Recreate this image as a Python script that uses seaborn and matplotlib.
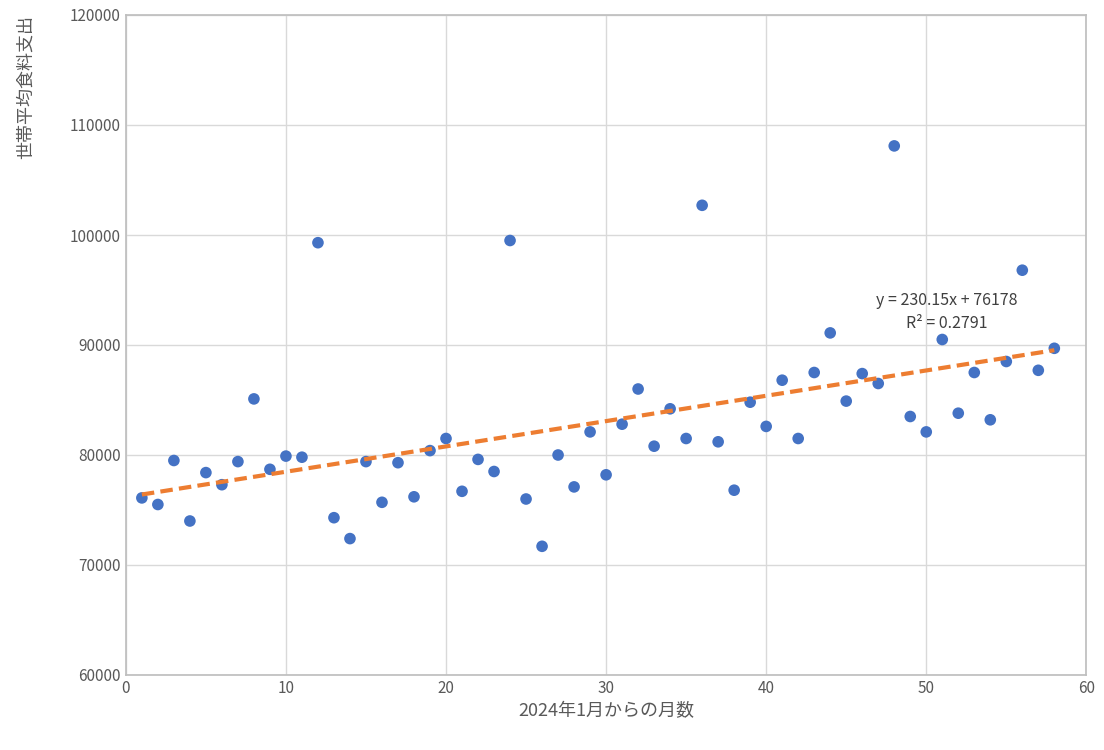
import numpy as np
import pandas as pd
import matplotlib
matplotlib.use("Agg")
import matplotlib.pyplot as plt
import seaborn as sns

months = list(range(1, 59))
spending = [76100, 75500, 79500, 74000, 78400, 77300, 79400, 85100, 78700, 79900,
            79800, 99300, 74300, 72400, 79400, 75700, 79300, 76200, 80400, 81500,
            76700, 79600, 78500, 99500, 76000, 71700, 80000, 77100, 82100, 78200,
            82800, 86000, 80800, 84200, 81500, 102700, 81200, 76800, 84800, 82600,
            86800, 81500, 87500, 91100, 84900, 87400, 86500, 108100, 83500, 82100,
            90500, 83800, 87500, 83200, 88500, 96800, 87700, 89700]
slope = 230.15
intercept = 76178
eq_label = "y = 230.15x + 76178"
r2_label = "R² = 0.2791"

sns.set_theme(style="whitegrid")
plt.rcParams['font.family'] = ['Noto Sans CJK JP', 'DejaVu Sans']

df = pd.DataFrame({"x": months, "y": spending})
fig = plt.figure(figsize=(11.04, 7.5), dpi=100)
ax = fig.add_axes([0.114, 0.1, 0.87, 0.88])
sns.scatterplot(data=df, x="x", y="y", ax=ax, color="#4472C4", s=70, edgecolor="none", zorder=3)
xs = np.array([months[0], months[-1]])
ax.plot(xs, slope * xs + intercept, ls=(0, (3, 1.5)), color="#ED7D31", lw=3, zorder=4)
ax.text(51.3, 93000, eq_label + "\n" + r2_label, ha="center", va="center", fontsize=11.5, color="#404040", linespacing=1.4)

ax.set_xlim(0, 60)
ax.set_ylim(60000, 120000)
ax.set_xticks(range(0, 61, 10))
ax.set_yticks(range(60000, 120001, 10000))
ax.tick_params(labelsize=11, colors="#595959", length=0)
ax.grid(True, color="#D9D9D9", lw=1)
for s in ax.spines.values():
    s.set_color("#BFBFBF")
ax.set_xlabel("2024年1月からの月数", fontsize=13, color="#595959")
ax.set_ylabel("世帯平均食料支出", fontsize=13, color="#595959", loc="top")
ax.yaxis.set_label_coords(-0.095, 1.0)
fig.savefig("out.png", dpi=100)
